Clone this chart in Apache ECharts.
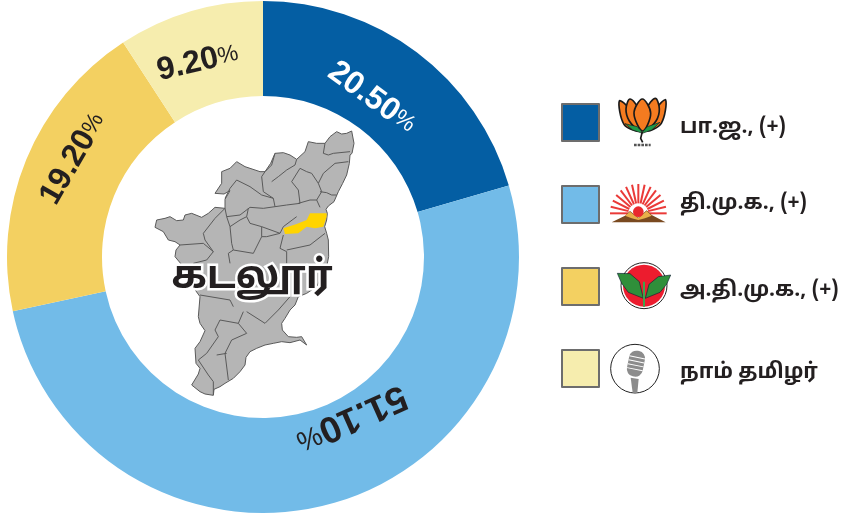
<!DOCTYPE html>
<html><head><meta charset="utf-8">
<style>html,body{margin:0;padding:0;background:#fff}#c{width:843px;height:517px}</style>
<script src="https://cdn.jsdelivr.net/npm/echarts@6/dist/echarts.min.js"></script></head>
<body><div id="c"></div>
<script>
const parties = ['பா.ஜ., (+)', 'தி.மு.க., (+)', 'அ.தி.மு.க., (+)', 'நாம் தமிழர்'];
const shares = [20.5, 51.1, 19.2, 9.2];
const colors = ['#045ea3', '#72bbe8', '#f3d061', '#f6edae'];
const centerTitle = 'கடலூர்';

// label tweaks (not data)
const labelRot = [-36, -156, 60, 13];
const labelShift = [[-18, 10], [36, -44], [6, -18], [-5, 8]];
const labelColor = ['#ffffff', '#231f20', '#231f20', '#231f20'];
const labelSize = [32, 37, 32, 32];
const legendTextY = [129, 205, 292, 374];

// decorative map outline (coordinates of the 3x trace)
const mapOutline = [[560,35],[575,42],[590,40],[605,33],[612,70],[606,100],[600,105],[598,130],[590,165],[578,190],[565,215],[552,245],[535,258],[528,268],[532,280],[530,300],[524,320],[530,340],[535,360],[536,410],[530,440],[500,500],[470,520],[445,530],[435,555],[420,570],[405,595],[395,610],[397,630],[415,650],[440,652],[455,650],[470,675],[450,660],[420,668],[395,665],[370,670],[345,675],[320,685],[300,695],[288,712],[285,735],[270,755],[250,775],[225,790],[210,800],[192,808],[190,826],[165,822],[150,815],[125,795],[145,762],[150,745],[138,730],[135,685],[150,665],[165,632],[150,610],[145,590],[150,530],[125,495],[100,440],[75,410],[78,390],[90,375],[75,365],[55,360],[40,335],[15,322],[20,300],[45,295],[60,290],[80,302],[100,300],[105,285],[125,280],[155,292],[175,280],[195,262],[225,265],[225,238],[240,212],[222,222],[195,220],[215,190],[215,155],[240,145],[260,125],[285,140],[300,145],[330,155],[345,155],[362,130],[375,100],[400,98],[420,105],[440,118],[465,95],[475,65],[500,70],[525,70],[540,50]];
const mapLines = [
 [[525,70],[520,100],[535,105],[550,100],[600,95]],
 [[375,100],[365,135],[345,155],[335,170],[340,215],[370,235],[375,260]],
 [[440,118],[435,135],[410,150],[385,170],[365,185]],
 [[425,185],[450,145],[470,155],[485,160],[505,190],[515,215],[500,240],[510,262]],
 [[425,185],[445,210],[450,250],[410,255],[375,260],[340,265],[300,262],[270,285],[230,290]],
 [[505,190],[520,160],[555,130],[595,125]],
 [[510,215],[530,218],[545,225],[560,225]],
 [[445,250],[480,240],[500,240]],
 [[260,180],[240,205],[225,235]],
 [[260,180],[300,200],[335,225],[370,235]],
 [[225,265],[230,290],[240,320],[245,370],[250,390],[235,400],[240,430]],
 [[295,265],[290,290],[300,310],[335,320],[335,350],[310,400],[250,390]],
 [[240,320],[270,300],[290,290]],
 [[335,320],[390,340],[400,320],[440,290]],
 [[390,340],[350,350],[335,350]],
 [[400,345],[390,385],[410,395],[410,430]],
 [[410,390],[480,375],[525,340]],
 [[225,265],[195,295],[160,340],[165,360],[190,395]],
 [[90,375],[160,370],[190,395],[170,420],[130,430]],
 [[150,525],[240,540],[250,560]],
 [[280,575],[265,610],[290,640],[245,660],[225,700],[235,780]],
 [[290,575],[345,610],[385,570],[420,530]],
 [[265,610],[210,600],[195,630],[205,650],[170,700],[145,720]],
 [[200,705],[230,700]],
 [[145,720],[175,765],[190,785],[190,825]]
];
const mapHighlight = [[400,325],[440,312],[470,300],[480,280],[530,280],[530,290],[520,320],[495,325],[470,320],[445,340],[405,342]];

const fam = '"Noto Sans Tamil","Lohit Tamil","Noto Sans","DejaVu Sans",sans-serif';

function poly(points, fill, stroke, lw, smooth, z) {
  return {type:'polygon', shape:{points, smooth:smooth||0}, style:{fill, stroke:stroke||null, lineWidth:lw||0}, z:z||5};
}
function mapGroup() {
  const ch = [poly(mapOutline, '#b5b5b5', '#5a5a5a', 3)];
  mapLines.forEach(p => ch.push({type:'polyline', shape:{points:p}, style:{stroke:'#5a5a5a', lineWidth:3, fill:null}, z:5}));
  ch.push(poly(mapHighlight, '#ffd400', null, 0));
  return {type:'group', x:150, y:120, scaleX:1/3, scaleY:1/3, children:ch, silent:true};
}
function lotus() {
  const o='#f47b20', k='#1a1a1a';
  const petals = [
    [[208,48],[238,72],[245,112],[262,138],[222,118]],
    [[347,45],[318,72],[310,112],[292,138],[334,115]],
    [[240,42],[265,72],[265,132],[238,108],[228,72]],
    [[316,40],[290,72],[290,132],[318,108],[328,72]],
    [[277,42],[302,85],[278,138],[252,85]]
  ];
  const ch = petals.map(p => poly(p, o, k, 5, 0.35));
  ch.push(poly([[225,116],[262,125],[277,142],[292,125],[330,112],[305,135],[277,145],[248,135]], '#1f9a48', k, 2));
  ch.push({type:'polyline', shape:{points:[[277,140],[272,160],[278,172]]}, style:{stroke:k, lineWidth:5, fill:null}, z:5});
  ch.push({type:'line', shape:{x1:252,y1:180,x2:302,y2:180}, style:{stroke:'#555', lineWidth:7, lineDash:[8,3]}, z:5});
  return ch;
}
function sun() {
  const ch = [];
  const cx=265, cy=385;
  for (let i=0;i<=14;i++) {
    const a = Math.PI*(1+i/14), s=Math.cos(a), c=Math.sin(a);
    ch.push({type:'line', shape:{x1:cx+30*s,y1:cy+30*c,x2:cx+85*s,y2:cy+88*c}, style:{stroke:'#ea3a38', lineWidth:6}, z:5});
  }
  ch.push(poly([[185,412],[225,392],[240,378],[265,398],[290,376],[305,390],[347,412]], '#7a4a20', null, 0));
  ch.push(poly([[225,392],[240,380],[265,400],[290,378],[305,392],[285,400],[265,405],[245,400]], '#e8b04a', null, 0));
  ch.push({type:'circle', shape:{cx,cy:380,r:16}, style:{fill:'#ea2a2e'}, z:5});
  return ch;
}
function leaf() {
  const g='#2f8f3a', k='#123';
  return [
    {type:'circle', shape:{cx:282,cy:602,r:69}, style:{fill:'#fff', stroke:'#222', lineWidth:3}, z:5},
    {type:'circle', shape:{cx:282,cy:602,r:63}, style:{fill:'#ec1c2e'}, z:5},
    poly([[202,565],[240,566],[268,590],[280,640],[235,622],[215,595]], g, k, 2),
    poly([[362,570],[325,575],[297,598],[286,640],[330,622],[350,598]], g, k, 2),
    {type:'rect', shape:{x:279,y:590,width:6,height:75}, style:{fill:'#3fa34d'}, z:5}
  ];
}
function mic() {
  const c='#8c8c8c';
  return [
    {type:'circle', shape:{cx:255,cy:851,r:73}, style:{fill:'#fff', stroke:'#222', lineWidth:3}, z:5},
    {type:'group', x:258, y:835, rotation:-0.2, children:[
      {type:'rect', shape:{x:-24,y:-38,width:48,height:78,r:22}, style:{fill:c}, z:5},
      {type:'line', shape:{x1:-24,y1:-18,x2:24,y2:-18}, style:{stroke:'#fff',lineWidth:3}, z:6},
      {type:'line', shape:{x1:-24,y1:-6,x2:24,y2:-6}, style:{stroke:'#fff',lineWidth:3}, z:6},
      {type:'line', shape:{x1:-24,y1:6,x2:24,y2:6}, style:{stroke:'#fff',lineWidth:3}, z:6},
      {type:'line', shape:{x1:-24,y1:18,x2:24,y2:18}, style:{stroke:'#fff',lineWidth:3}, z:6}
    ]},
    poly([[242,878],[266,882],[262,923],[248,923]], c, null, 0)
  ];
}

// dx/dy of labelLayout act in the rotated label frame: convert a screen shift
function localShift(i) {
  const t = labelRot[i]*Math.PI/180, [sx,sy] = labelShift[i];
  return {dx: sx*Math.cos(t)-sy*Math.sin(t), dy: sx*Math.sin(t)+sy*Math.cos(t)};
}

const chart = echarts.init(document.getElementById('c'), null, {renderer:'canvas'});
chart.setOption({
  animation:false,
  backgroundColor:'#fff',
  color:colors,
  legend:{
    show:true, orient:'vertical', left:561, top:103, padding:0, itemWidth:37, itemHeight:37, itemGap:43, selectedMode:false,
    icon:'rect',
    itemStyle:{borderColor:'#6d6d6d', borderWidth:2},
    formatter:()=>' ',
    textStyle:{fontSize:12},
    data:parties.map(name=>({name}))
  },
  series:[{
    type:'pie', center:[263,257], radius:[161,256], startAngle:90, clockwise:true,
    silent:true, avoidLabelOverlap:false, labelLine:{show:false},
    label:{show:true, position:'inside'},
    labelLayout:(p)=>({...localShift(p.dataIndex), rotate:labelRot[p.dataIndex]}),
    data:shares.map((v,i)=>({
      name:parties[i], value:v,
      itemStyle:{color:colors[i]},
      label:{
        formatter:v.toFixed(2)+'{p|%}',
        fontFamily:'"Liberation Sans",Arial,sans-serif', fontWeight:'bold', fontSize:labelSize[i], color:labelColor[i],
        rich:{p:{fontFamily:'"Liberation Sans",Arial,sans-serif', fontSize:labelSize[i]-9, fontWeight:'normal', color:labelColor[i]}}
      }
    }))
  }],
  graphic:[
    mapGroup(),
    {type:'group', x:550, y:85, scaleX:1/3, scaleY:1/3, silent:true, children:[...lotus(), ...sun(), ...leaf(), ...mic()]},
    ...parties.map((t,i)=>({type:'text', x:680, y:legendTextY[i], z:10, silent:true, style:{text:t, align:'left', verticalAlign:'middle', font:'bold 21px '+fam, fill:'#231f20'}})),
    {type:'text', x:252, y:280, z:10, silent:true, style:{text:centerTitle, x:0, y:0, align:'center', verticalAlign:'middle', font:'bold 39px '+fam, fill:'#231f20', stroke:'#fff', lineWidth:5}}
  ]
});
</script></body></html>
